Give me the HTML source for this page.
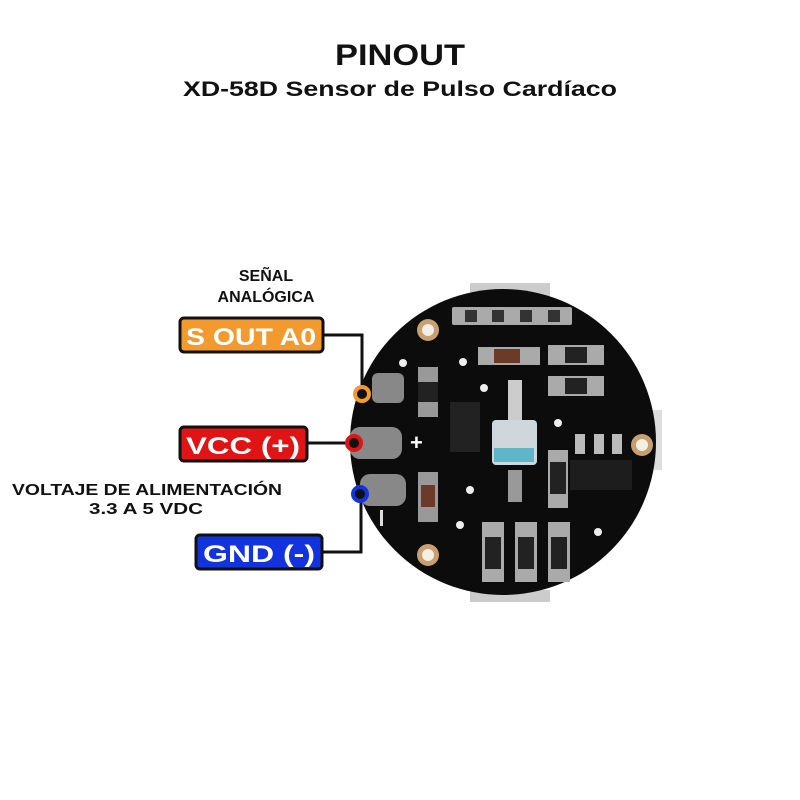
<!DOCTYPE html>
<html><head><meta charset="utf-8"><style>
html,body{margin:0;padding:0;background:#fff;width:800px;height:800px;overflow:hidden}
svg{display:block}
text{font-family:"Liberation Sans",sans-serif;font-weight:bold}
</style></head><body>
<svg width="800" height="800" viewBox="0 0 800 800">
<rect width="800" height="800" fill="#fff"/>
<text x="400" y="65" font-size="30" text-anchor="middle" textLength="130" lengthAdjust="spacingAndGlyphs" fill="#111">PINOUT</text>
<text x="400" y="96" font-size="21" text-anchor="middle" textLength="434" lengthAdjust="spacingAndGlyphs" fill="#111">XD-58D Sensor de Pulso Cardíaco</text>

<!-- board -->
<rect x="470" y="283" width="80" height="14" fill="#ccc"/>
<rect x="470" y="590" width="80" height="12" fill="#ccc"/>
<rect x="650" y="410" width="12" height="60" fill="#ddd"/>
<circle cx="503" cy="442" r="153" fill="#0c0c0c"/>
<circle cx="428" cy="330" r="11" fill="#c8a070"/><circle cx="428" cy="330" r="6" fill="#f4efe5"/>
<circle cx="642" cy="445" r="11" fill="#c8a070"/><circle cx="642" cy="445" r="6" fill="#f4efe5"/>
<circle cx="428" cy="555" r="11" fill="#c8a070"/><circle cx="428" cy="555" r="6" fill="#f4efe5"/>
<g fill="#eee"><circle cx="403" cy="363" r="4"/><circle cx="463" cy="362" r="4"/><circle cx="484" cy="388" r="4"/><circle cx="558" cy="423" r="4"/><circle cx="470" cy="490" r="4"/><circle cx="460" cy="525" r="4"/><circle cx="598" cy="532" r="4"/></g>
<g fill="#aaa"><rect x="452" y="307" width="120" height="18" rx="2"/></g>
<g fill="#333"><rect x="465" y="310" width="12" height="12"/><rect x="492" y="310" width="12" height="12"/><rect x="520" y="310" width="12" height="12"/><rect x="548" y="310" width="12" height="12"/></g>
<rect x="478" y="347" width="62" height="18" fill="#aaa"/><rect x="494" y="349" width="26" height="14" fill="#6b3a28"/>
<rect x="548" y="345" width="56" height="20" fill="#aaa"/><rect x="565" y="347" width="22" height="16" fill="#222"/>
<rect x="548" y="376" width="56" height="20" fill="#aaa"/><rect x="565" y="378" width="22" height="16" fill="#222"/>
<rect x="418" y="367" width="20" height="50" fill="#999"/><rect x="418" y="382" width="20" height="20" fill="#222"/>
<rect x="418" y="472" width="20" height="50" fill="#999"/><rect x="421" y="485" width="14" height="22" fill="#6b3a28"/>
<rect x="450" y="402" width="30" height="50" fill="#222"/>
<rect x="508" y="380" width="14" height="40" fill="#ccc"/>
<rect x="492" y="420" width="45" height="45" rx="4" fill="#cfd7dc"/><rect x="494" y="448" width="40" height="14" fill="#5fb6c8"/>
<rect x="508" y="470" width="14" height="32" fill="#999"/>
<rect x="570" y="460" width="62" height="30" fill="#1d1d1d"/>
<g fill="#bbb"><rect x="575" y="434" width="10" height="20"/><rect x="594" y="434" width="10" height="20"/><rect x="612" y="434" width="10" height="20"/></g>
<rect x="548" y="450" width="20" height="58" fill="#aaa"/><rect x="550" y="462" width="16" height="32" fill="#222"/>
<g fill="#aaa"><rect x="482" y="522" width="22" height="60"/><rect x="515" y="522" width="22" height="60"/><rect x="548" y="522" width="22" height="60"/></g>
<g fill="#222"><rect x="485" y="537" width="16" height="32"/><rect x="518" y="537" width="16" height="32"/><rect x="551" y="537" width="16" height="32"/></g>
<g fill="#888"><rect x="372" y="373" width="32" height="30" rx="6"/><rect x="350" y="427" width="52" height="32" rx="10"/><rect x="360" y="474" width="46" height="32" rx="10"/></g>
<text x="410" y="450" font-size="22" fill="#fff">+</text>
<rect x="380" y="510" width="3" height="16" fill="#ddd"/>

<text x="266" y="281" font-size="16" text-anchor="middle" fill="#111">SEÑAL</text>
<text x="266" y="302" font-size="16" text-anchor="middle" fill="#111">ANALÓGICA</text>
<text x="147" y="495" font-size="16" text-anchor="middle" textLength="270" lengthAdjust="spacingAndGlyphs" fill="#111">VOLTAJE DE ALIMENTACIÓN</text>
<text x="146" y="514" font-size="16" text-anchor="middle" textLength="114" lengthAdjust="spacingAndGlyphs" fill="#111">3.3 A 5 VDC</text>

<polyline points="323,335 362,335 362,393" fill="none" stroke="#111" stroke-width="3"/>
<line x1="307" y1="443" x2="354" y2="443" stroke="#111" stroke-width="3"/>
<polyline points="322,552 361,552 361,494" fill="none" stroke="#111" stroke-width="3"/>

<rect x="180" y="318" width="143" height="34" rx="4" fill="#f29a2e" stroke="#111" stroke-width="3"/>
<text x="251" y="345" font-size="24" text-anchor="middle" textLength="130" lengthAdjust="spacingAndGlyphs" fill="#fff">S OUT A0</text>
<rect x="180" y="427" width="127" height="34" rx="4" fill="#e01414" stroke="#111" stroke-width="3"/>
<text x="243" y="454" font-size="24" text-anchor="middle" textLength="114" lengthAdjust="spacingAndGlyphs" fill="#fff">VCC (+)</text>
<rect x="196" y="535" width="126" height="34" rx="4" fill="#1233dd" stroke="#111" stroke-width="3"/>
<text x="259" y="562" font-size="24" text-anchor="middle" textLength="112" lengthAdjust="spacingAndGlyphs" fill="#fff">GND (-)</text>

<circle cx="362" cy="394" r="7" fill="#111" stroke="#f29a2e" stroke-width="4"/>
<circle cx="354" cy="443" r="7" fill="#111" stroke="#e01414" stroke-width="4"/>
<circle cx="360" cy="494" r="7" fill="#111" stroke="#1233dd" stroke-width="4"/>
</svg>
</body></html>
